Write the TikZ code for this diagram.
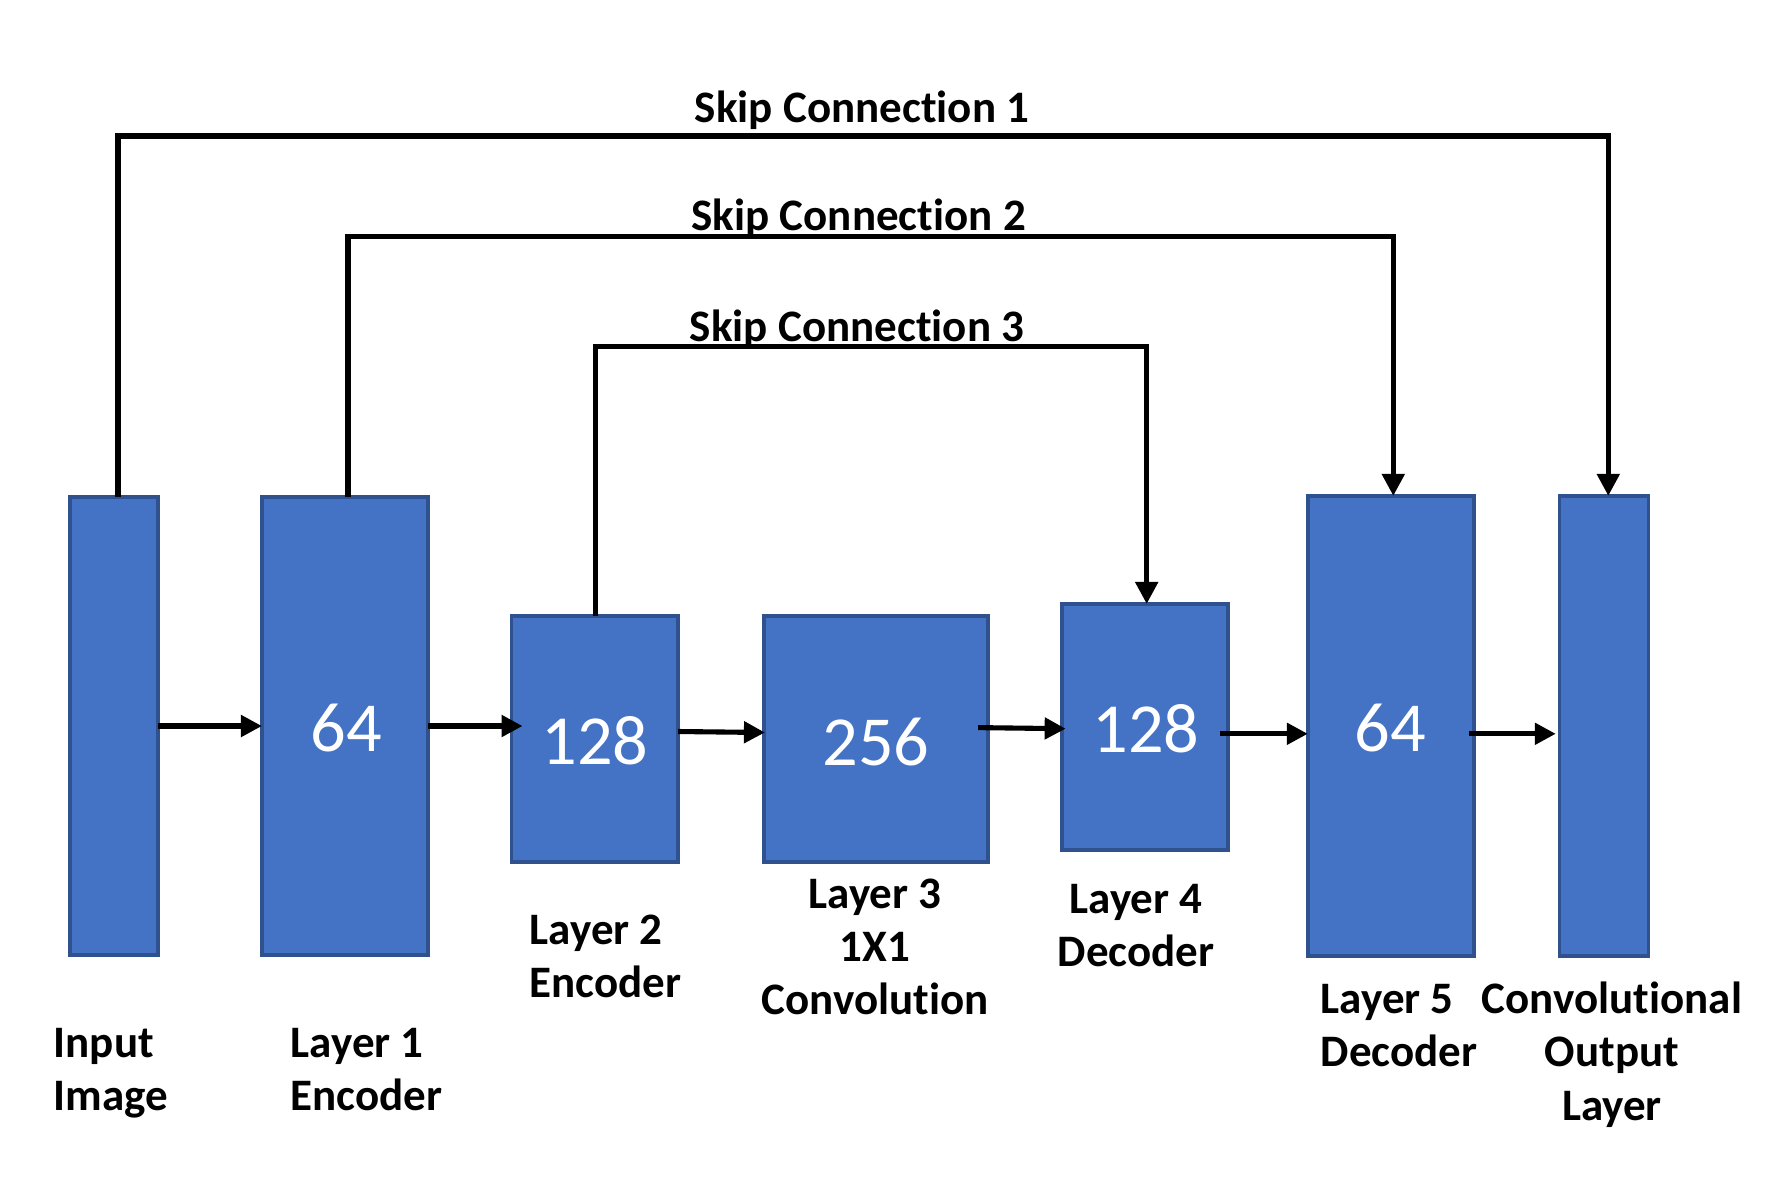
\documentclass[tikz,border=0pt]{standalone}
\usepackage{fontspec}
\setmainfont[Ligatures=NoCommon]{Carlito}
\usetikzlibrary{arrows.meta,calc}
\definecolor{boxfill}{HTML}{4472C4}
\definecolor{boxline}{HTML}{2F528F}
\tikzset{
  layer/.style={draw=boxline, fill=boxfill, line width=1.05pt, inner sep=0pt, outer sep=0pt},
  num/.style={text=white, font=\fontsize{20}{24}\selectfont, inner sep=0pt},
  lab/.style={font=\fontsize{12.8}{15.2}\selectfont\bfseries, inner sep=0pt},
  conn/.style={line width=1.45pt, -{Triangle[length=0.21cm, width=0.21cm]}},
  skipconn/.style={line width=1.45pt, -{Triangle[length=0.22cm, width=0.22cm]}},
}
\begin{document}
\begin{tikzpicture}[x=0.01cm, y=-0.01cm]
\useasboundingbox[fill=white] (0,0) rectangle (1768,1196);

% boxes
\node[layer, minimum width=0.886cm, minimum height=4.58cm] (in)  at (114,726) {};
\node[layer, minimum width=1.66cm,  minimum height=4.58cm] (L1)  at (345,726) {};
\node[layer, minimum width=1.664cm, minimum height=2.46cm] (L2)  at (594.8,739) {};
\node[layer, minimum width=2.24cm,  minimum height=2.46cm] (L3)  at (876,739) {};
\node[layer, minimum width=1.66cm,  minimum height=2.46cm] (L4)  at (1145,727) {};
\node[layer, minimum width=1.663cm, minimum height=4.60cm] (L5)  at (1391,726) {};
\node[layer, minimum width=0.89cm,  minimum height=4.60cm] (out) at (1604,726) {};

% numbers
\node[num] (n1) at (346,728) {64};
\node[num] (n2) at (595,741) {128};
\node[num] (n3) at (876,742) {256};
\node[num] (n4) at (1146,729) {128};
\node[num] (n5) at (1390.5,728) {64};

% forward connectors
\draw[conn] (in.east) -- (L1.west);
\draw[conn] (L1.east) -- ($(L2.west |- L1.east)+(11,0)$);
\draw[conn] ($(L2.east)+(0,-7.5)$) -- ($(L3.west)+(1,-6.5)$);
\draw[conn] ($(L3.east)+(-10,-11.4)$) -- ($(L4.west)+(3.7,1.7)$);
\draw[conn] ($(L4.east)+(-8,6.8)$) -- ($(L5.west)+(0,7.8)$);
\draw[conn] ($(L5.east)+(-5.3,7.8)$) -- ($(out.west)+(-3.7,7.8)$);

% skip connections
\coordinate (s1) at (0,136);
\coordinate (s2) at (0,236.7);
\coordinate (s3) at (0,346.7);
\draw[skipconn] ($(in.north)+(4,0)$) -- ($(in.north |- s1)+(4,0)$) -| ($(out.north)+(4.3,0)$);
\draw[skipconn] ($(L1.north)+(3,0)$) -- ($(L1.north |- s2)+(3,0)$) -| ($(L5.north)+(2.3,0)$);
\draw[skipconn] ($(L2.north)+(0.7,0)$) -- ($(L2.north |- s3)+(0.7,0)$) -| ($(L4.north)+(1.7,0)$);

% skip labels
\node[lab, anchor=base] (k1) at (862,122.7) {Skip Connection 1};
\node[lab, anchor=base] (k2) at (858.7,230.7) {Skip Connection 2};
\node[lab, anchor=base] (k3) at (857,341) {Skip Connection 3};

% layer labels
\node[lab, anchor=base west] (tin) at (53,1057) {\begin{tabular}[t]{@{}l@{}}Input\\Image\end{tabular}};
\node[lab, anchor=base west] (t1) at (290,1057) {\begin{tabular}[t]{@{}l@{}}Layer 1\\Encoder\end{tabular}};
\node[lab, anchor=base west] (t2) at (529,944) {\begin{tabular}[t]{@{}l@{}}Layer 2\\Encoder\end{tabular}};
\node[lab, anchor=base] (t3) at (875,908) {\begin{tabular}[t]{@{}c@{}}Layer 3\\1X1\\Convolution\end{tabular}};
\node[lab, anchor=base] (t4) at (1136,913) {\begin{tabular}[t]{@{}c@{}}Layer 4\\Decoder\end{tabular}};
\node[lab, anchor=base west] (t5) at (1320,1013.5) {\begin{tabular}[t]{@{}l@{}}Layer 5\\Decoder\end{tabular}};
\node[lab, anchor=base] (tout) at (1612,1013.5) {\begin{tabular}[t]{@{}c@{}}Convolutional\\Output\\Layer\end{tabular}};
\end{tikzpicture}
\end{document}
